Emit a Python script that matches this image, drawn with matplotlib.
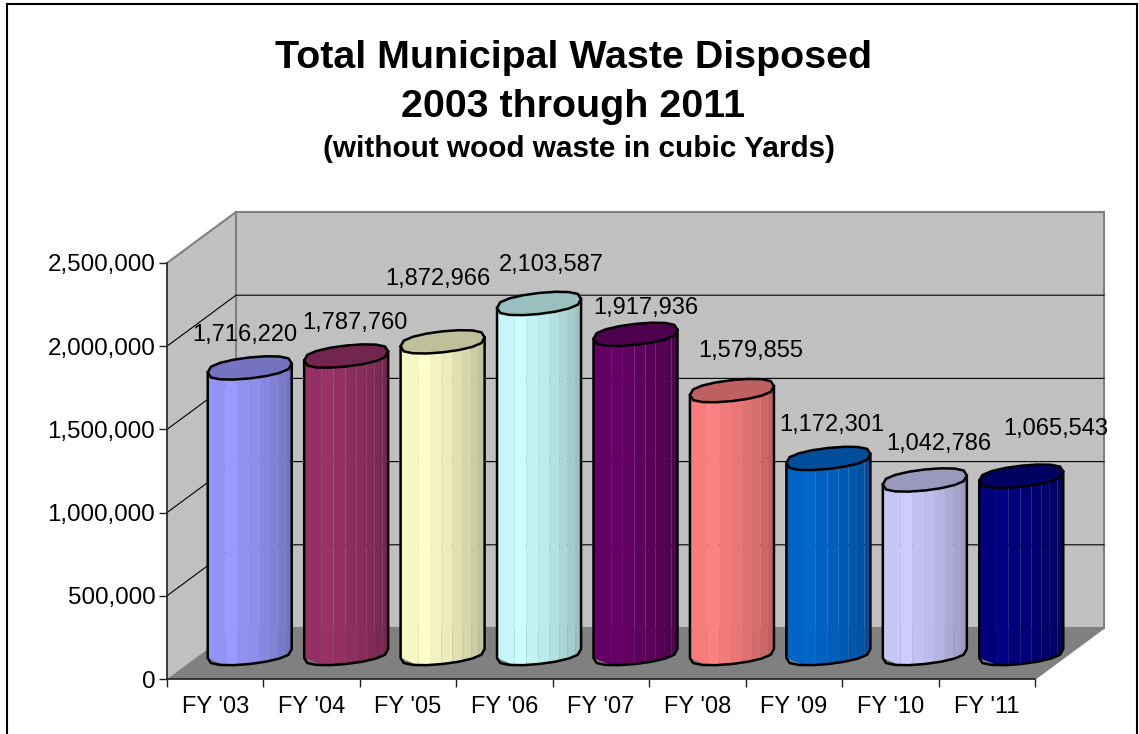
import numpy as np
import matplotlib
matplotlib.use('Agg')
import matplotlib.pyplot as plt
from matplotlib.patches import Polygon, Rectangle

plt.rcParams['font.family'] = ['Liberation Sans', 'DejaVu Sans']

# data
years = ["FY '03", "FY '04", "FY '05", "FY '06", "FY '07", "FY '08", "FY '09", "FY '10", "FY '11"]
waste = [1716220, 1787760, 1872966, 2103587, 1917936, 1579855, 1172301, 1042786, 1065543]
y_ticks = [0, 500000, 1000000, 1500000, 2000000, 2500000]
colors = ['#9999FF', '#993366', '#FFFFCC', '#CCFFFF', '#660066', '#FF8080', '#0066CC', '#CCCCFF', '#000080']

# label shift from the top of each cylinder, in pixels (x, up)
label_dx = [-5, 9, -5, 12, 10, 19, 3, 14, 34]
label_dy = [33, 33, 63, 38, 26, 40, 33, 36, 47]

W, H = 1139, 734
fig = plt.figure(figsize=(W / 100, H / 100), dpi=100)
fig.patch.set_facecolor('white')

# axes = front plane of the 3d box
left, right, y0, ytop = 167, 1035, 679, 263
ax = fig.add_axes([left / W, 1 - y0 / H, (right - left) / W, (y0 - ytop) / H])
ax.set_xlim(-0.5, 8.5)
ax.set_ylim(0, 2500000)
ax.patch.set_visible(False)

px = 9 / (right - left)  # one pixel in x units
py = 2500000 / (y0 - ytop)  # one pixel in y units
depth_x = 69 * px
depth_y = 51 * py

# walls and floor
ymax = y_ticks[-1]
side = [(-0.5, 0), (-0.5 + depth_x, depth_y), (-0.5 + depth_x, ymax + depth_y), (-0.5, ymax)]
ax.add_patch(Polygon(side, fc='#C0C0C0', ec='none', clip_on=False, zorder=1))
back = [(-0.5 + depth_x, depth_y), (8.5 + depth_x, depth_y), (8.5 + depth_x, ymax + depth_y), (-0.5 + depth_x, ymax + depth_y)]
ax.add_patch(Polygon(back, fc='#C0C0C0', ec='#808080', lw=1.5, clip_on=False, zorder=1))
floor = [(-0.5, 0), (8.5, 0), (8.5 + depth_x, depth_y), (-0.5 + depth_x, depth_y)]
ax.add_patch(Polygon(floor, fc='#808080', ec='none', clip_on=False, zorder=2))
ax.plot([-0.5, -0.5 + depth_x], [ymax, ymax + depth_y], color='#808080', lw=1.5, clip_on=False, zorder=2)
ax.plot([8.5, 8.5 + depth_x], [0, depth_y], color='#808080', lw=1.2, clip_on=False, zorder=3)

# gridlines
for t in y_ticks[1:-1]:
    ax.plot([-0.5, -0.5 + depth_x, 8.5 + depth_x], [t, t + depth_y, t + depth_y], color='black', lw=0.8,
            clip_on=False, zorder=2)

# cylinders
rx = 42 * px
ry = 10.5 * py
shear = 4.5 * py
facets = [0, .21, .35, .49, .62, .74, .84, .93, 1]
shade = [0.97, 1.0, 0.95, 0.92, 0.88, 0.84, 0.80, 0.76]


def ring(cx, cy, t):
    s = np.sin(t)
    return cx + rx * np.cos(t), cy + ry * np.sign(s) * np.abs(s) ** 0.7 + shear * np.cos(t)


def scale(col, k):
    return tuple(c * k for c in matplotlib.colors.to_rgb(col))


for i, v in enumerate(waste):
    cx = i + depth_x / 2
    base = depth_y / 2
    top = base + v
    for j in range(len(shade)):
        t0 = np.pi + np.arccos(1 - 2 * facets[j])
        t1 = np.pi + np.arccos(1 - 2 * facets[j + 1])
        x0, b0 = ring(cx, base, t0)
        x1, b1 = ring(cx, base, t1)
        _, u0 = ring(cx, top, t0)
        _, u1 = ring(cx, top, t1)
        ax.add_patch(Polygon([(x0, b0), (x1, b1), (x1, u1), (x0, u0)], fc=scale(colors[i], shade[j]), ec='none',
                             clip_on=False, zorder=4))
    # outline of the side
    tt = np.linspace(np.pi, 2 * np.pi, 9)
    xb, yb = ring(cx, base, tt)
    xl, yl = ring(cx, top, np.pi)
    xr, yr = ring(cx, top, 2 * np.pi)
    ax.plot(np.r_[xl, xb, xr], np.r_[yl, yb, yr], color='black', lw=1.8, clip_on=False, zorder=5)
    # top cap
    tt = np.linspace(0, 2 * np.pi, 17)[:-1]
    xc, yc = ring(cx, top, tt)
    ax.add_patch(Polygon(np.c_[xc, yc], fc=scale(colors[i], 0.75), ec='black', lw=1.8, clip_on=False, zorder=6))
    ax.annotate(f'{v:,}', xy=(cx, top), xytext=(label_dx[i], label_dy[i]), textcoords='offset pixels',
                ha='center', va='center', fontsize=17, color='black', zorder=7, annotation_clip=False)

# axes and ticks
for s in ['top', 'right']:
    ax.spines[s].set_visible(False)
for s in ['left', 'bottom']:
    ax.spines[s].set_color('#202020')
    ax.spines[s].set_linewidth(1.2)
    ax.spines[s].set_zorder(3)
ax.set_yticks(y_ticks)
ax.set_yticklabels([f'{t:,}' for t in y_ticks])
ax.set_xticks(np.arange(-0.5, 9, 1))
ax.set_xticklabels([])
ax.set_xticks(np.arange(9), labels=years, minor=True)
ax.tick_params(axis='y', length=5.5, width=1, color='#202020', labelsize=17.4, pad=3)
ax.tick_params(axis='x', which='major', length=6, width=1, color='#202020')
ax.tick_params(axis='x', which='minor', length=0, labelsize=17, pad=12)

# title block
fig.text(573.5 / W, 1 - 68.5 / H, 'Total Municipal Waste Disposed', ha='center', va='baseline', fontsize=28.4, fontweight='bold')
fig.text(573.5 / W, 1 - 117 / H, '2003 through 2011', ha='center', va='baseline', fontsize=28.4, fontweight='bold')
fig.text(579 / W, 1 - 157 / H, '(without wood waste in cubic Yards)', ha='center', va='baseline', fontsize=21.4, fontweight='bold')

# outer frame, cut by the bottom edge
fig.add_artist(Rectangle((7 / W, -0.01), (1137 - 7) / W, 1.01 - 4 / H, transform=fig.transFigure, fc='none', ec='black', lw=1.5))

fig.savefig('out.png', dpi=100)
